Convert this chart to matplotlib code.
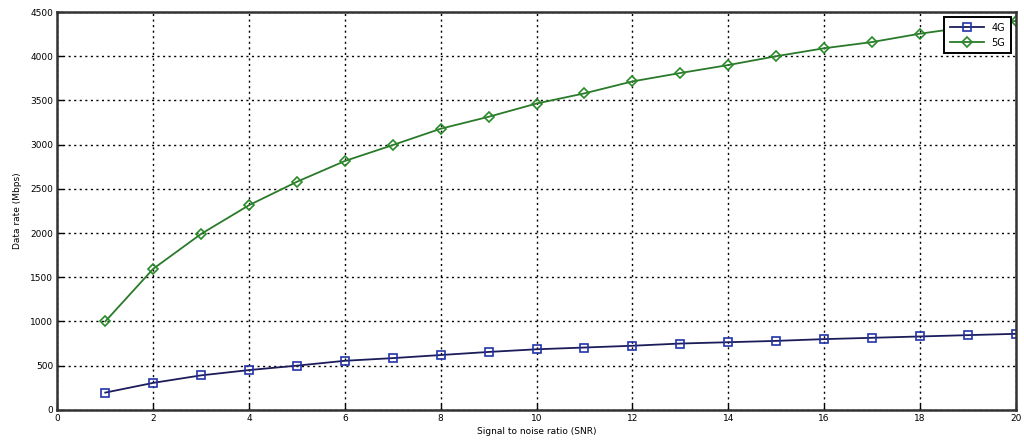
import matplotlib
matplotlib.use("Agg")
import matplotlib.pyplot as plt

snr = list(range(1, 21))
rate_4g = [195, 305, 390, 450, 500, 555, 585, 620, 655, 685, 705, 725, 750, 765, 780, 800, 815, 830, 845, 860]
rate_5g = [1000, 1595, 1990, 2315, 2580, 2815, 2995, 3180, 3315, 3465, 3580, 3715, 3810, 3900, 4000, 4090, 4160, 4255, 4330, 4400]
xticks = list(range(0, 21, 2))
yticks = list(range(0, 4501, 500))

fig = plt.figure(figsize=(10.24, 4.45), dpi=100)
ax = fig.add_axes([0.056, 0.079, 0.936, 0.894])

ax.plot(snr, rate_4g, '-', color='#1c1c5a', lw=1.3, marker='s', markersize=6,
        markerfacecolor='none', markeredgecolor='#2233aa', markeredgewidth=1.2, label='4G')
ax.plot(snr, rate_5g, '-', color='#2a7a2a', lw=1.3, marker='D', markersize=5.5,
        markerfacecolor='none', markeredgecolor='#2a8a2a', markeredgewidth=1.2, label='5G')

ax.set_xlim(0, 20)
ax.set_ylim(0, 4500)
ax.set_xticks(xticks)
ax.set_yticks(yticks)
ax.tick_params(direction='in', length=4, width=1, labelsize=6.5, pad=3)
ax.grid(True, color='black', linestyle=(0, (1.5, 2.5)), linewidth=1.0)
for s in ax.spines.values():
    s.set_linewidth(1.8)
    s.set_color('#333333')

ax.set_xlabel('Signal to noise ratio (SNR)', fontsize=6.5, labelpad=3)
ax.set_ylabel('Data rate (Mbps)', fontsize=6.5, labelpad=6)

leg = ax.legend(loc='upper right', fontsize=7, frameon=True, fancybox=False,
                edgecolor='black', framealpha=1.0, borderpad=0.6, handlelength=3.5,
                labelspacing=0.5, borderaxespad=0.5)
leg.get_frame().set_linewidth(1.4)

fig.savefig('out.png', dpi=100)
